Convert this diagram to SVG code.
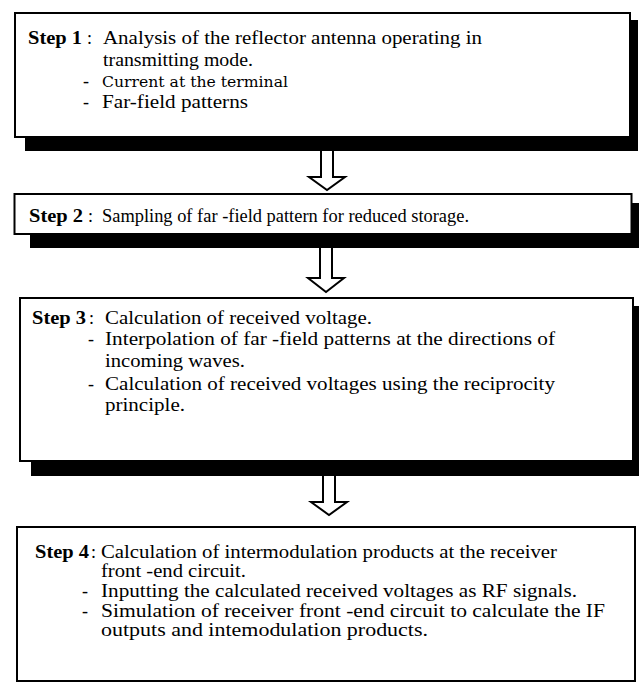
<svg xmlns="http://www.w3.org/2000/svg" width="642" height="689" viewBox="0 0 642 689">
<style>
.bg{fill:#fff}
.box{fill:#fff;stroke:#000;stroke-width:2}
.shadow{fill:#000}
.t{font-family:"Liberation Serif","Tinos","Times New Roman","DejaVu Serif",serif;font-size:18px;fill:#000}
.b{font-weight:bold}
.alt{font-family:"DejaVu Serif","Liberation Serif",serif;font-size:14px;fill:#000}
.arrow{fill:#fff;stroke:#000;stroke-width:2;stroke-linejoin:miter}
</style>
<rect class="bg" x="0" y="0" width="642" height="689"/>
<g id="step1">
<rect class="shadow" x="25" y="20" width="613" height="131"/>
<rect class="box" x="15" y="13" width="615" height="124"/>
<text class="t b" x="28" y="44" textLength="54" lengthAdjust="spacingAndGlyphs">Step 1</text>
<text class="t" x="87" y="44">:</text>
<text class="t" x="103" y="44" textLength="379" lengthAdjust="spacingAndGlyphs">Analysis of the reflector antenna operating in</text>
<text class="t" x="103" y="66" textLength="150" lengthAdjust="spacingAndGlyphs">transmitting mode.</text>
<text class="t" x="83" y="87">-</text>
<text class="alt" x="102" y="87" textLength="186" lengthAdjust="spacingAndGlyphs">Current at the terminal</text>
<text class="t" x="83" y="108">-</text>
<text class="t" x="102" y="108" textLength="146" lengthAdjust="spacingAndGlyphs">Far-field patterns</text>
</g>
<g id="step2">
<rect class="shadow" x="30" y="203" width="609" height="45"/>
<rect class="box" x="14.5" y="194" width="617" height="40"/>
<text class="t b" x="29" y="222" textLength="54" lengthAdjust="spacingAndGlyphs">Step 2</text>
<text class="t" x="88" y="222">:</text>
<text class="t" x="102" y="222" textLength="367" lengthAdjust="spacingAndGlyphs">Sampling of far -field pattern for reduced storage.</text>
</g>
<g id="step3">
<rect class="shadow" x="31" y="306" width="608" height="170"/>
<rect class="box" x="20" y="298" width="613" height="163"/>
<text class="t b" x="32" y="324" textLength="54" lengthAdjust="spacingAndGlyphs">Step 3</text>
<text class="t" x="89" y="324">:</text>
<text class="t" x="105" y="324" textLength="267" lengthAdjust="spacingAndGlyphs">Calculation of received voltage.</text>
<text class="t" x="88" y="345">-</text>
<text class="t" x="105" y="345" textLength="450" lengthAdjust="spacingAndGlyphs">Interpolation of far -field patterns at the directions of</text>
<text class="t" x="105" y="367" textLength="140" lengthAdjust="spacingAndGlyphs">incoming waves.</text>
<text class="t" x="88" y="390">-</text>
<text class="t" x="105" y="390" textLength="450" lengthAdjust="spacingAndGlyphs">Calculation of received voltages using the reciprocity</text>
<text class="t" x="105" y="411" textLength="80" lengthAdjust="spacingAndGlyphs">principle.</text>
</g>
<g id="step4">
<rect class="box" x="17" y="527" width="618" height="154"/>
<text class="t b" x="35" y="558" textLength="54" lengthAdjust="spacingAndGlyphs">Step 4</text>
<text class="t" x="91" y="558">:</text>
<text class="t" x="101" y="558" textLength="456" lengthAdjust="spacingAndGlyphs">Calculation of intermodulation products at the receiver</text>
<text class="t" x="101" y="577" textLength="145" lengthAdjust="spacingAndGlyphs">front -end circuit.</text>
<text class="t" x="82" y="597">-</text>
<text class="t" x="101" y="597" textLength="476" lengthAdjust="spacingAndGlyphs">Inputting the calculated received voltages as RF signals.</text>
<text class="t" x="82" y="617">-</text>
<text class="t" x="101" y="617" textLength="504" lengthAdjust="spacingAndGlyphs">Simulation of receiver front   -end circuit to calculate the IF</text>
<text class="t" x="101" y="636" textLength="327" lengthAdjust="spacingAndGlyphs">outputs and intemodulation products.</text>
</g>
<g id="connectors">
<path class="arrow" d="M321,151 V177 H309 L327,190 L345,177 H333 V151"/>
<path class="arrow" d="M320,248 V278 H308 L326,292 L344,278 H332 V248"/>
<path class="arrow" d="M323,476 V502 H311 L329,515 L347,502 H335 V476"/>
</g>
</svg>
